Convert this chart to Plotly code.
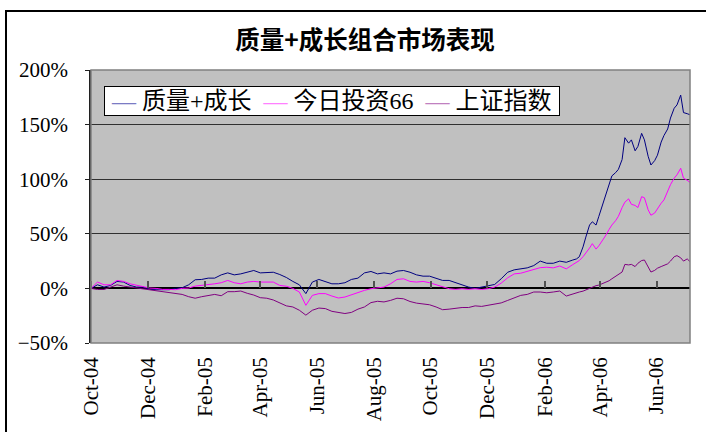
import plotly.graph_objects as go

DATES = [
    "2004-10-01", "2004-10-08", "2004-10-15", "2004-10-22", "2004-10-29",
    "2004-11-05", "2004-11-12", "2004-11-19", "2004-11-26",
    "2004-12-03", "2004-12-10", "2004-12-17", "2004-12-24", "2004-12-31",
    "2005-01-07", "2005-01-14", "2005-01-21", "2005-01-28",
    "2005-02-04", "2005-02-11", "2005-02-18", "2005-02-25",
    "2005-03-04", "2005-03-11", "2005-03-18", "2005-03-25",
    "2005-04-01", "2005-04-08", "2005-04-15", "2005-04-22", "2005-04-29",
    "2005-05-06", "2005-05-13", "2005-05-20", "2005-05-27",
    "2005-06-03", "2005-06-10", "2005-06-17", "2005-06-24",
    "2005-07-01", "2005-07-08", "2005-07-15", "2005-07-22", "2005-07-29",
    "2005-08-05", "2005-08-12", "2005-08-19", "2005-08-26",
    "2005-09-02", "2005-09-09", "2005-09-16", "2005-09-23", "2005-09-30",
    "2005-10-07", "2005-10-14", "2005-10-21", "2005-10-28",
    "2005-11-04", "2005-11-11", "2005-11-18", "2005-11-25",
    "2005-12-02", "2005-12-09", "2005-12-16", "2005-12-23", "2005-12-30",
    "2006-01-06", "2006-01-13", "2006-01-20", "2006-01-27",
    "2006-02-03", "2006-02-10", "2006-02-17", "2006-02-24",
    "2006-03-03", "2006-03-07", "2006-03-10", "2006-03-14", "2006-03-17",
    "2006-03-21", "2006-03-24", "2006-03-28", "2006-03-31", "2006-04-04",
    "2006-04-07", "2006-04-11", "2006-04-14", "2006-04-18", "2006-04-21",
    "2006-04-25", "2006-04-28", "2006-05-02", "2006-05-05", "2006-05-09",
    "2006-05-12", "2006-05-16", "2006-05-19", "2006-05-23", "2006-05-26",
    "2006-05-30", "2006-06-02", "2006-06-06", "2006-06-09", "2006-06-13",
    "2006-06-16", "2006-06-20", "2006-06-23", "2006-06-27", "2006-06-30",
    "2006-07-04", "2006-07-07",
]

# 质量+成长 (%)
QUALITY_GROWTH = [
    0, 3.3, 1.2, 2.7, 6.4, 5.8, 2.7, 1.2, 1.2, -0.9,
    -1.2, -0.9, -1.2, 0, 0.6, 3.3, 7.9, 8.2, 9.4, 9.4,
    12.4, 14.2, 12.4, 13.3, 14.8, 16.4, 14.2, 14.8, 14.8, 12.7,
    10, 6.4, 3.3, -4.8, 5.8, 8.2, 6.4, 4.2, 4.2, 5.2,
    8.2, 9.4, 14.2, 15.5, 13.3, 14.2, 13.3, 15.8, 16.4, 14.8,
    12.4, 11.2, 11.2, 9.4, 7.3, 7.3, 5.2, 3.3, 1.2, 0,
    1.2, 2.7, 3.6, 8.8, 14.8, 17, 17.9, 18.8, 20.9, 25,
    23, 23, 25, 23.9,
    26, 27, 29, 38, 47, 58, 61, 58, 66, 77,
    86, 97, 103, 106, 109, 118, 138, 133, 136, 126,
    130, 142, 136, 121, 113, 117, 122, 134, 140, 146,
    156, 165, 168, 177, 161, 160, 159,
]

# 今日投资66 (%)
JRTZ66 = [
    0, 5.8, 3.3, 3.3, 7.3, 6.4, 4.2, 2.7, 1.2, 0.3,
    0, -0.9, -0.9, -1.2, 0, 0.3, 2.1, 2.7, 3.3, 4.2,
    5.2, 7.3, 5.2, 4.2, 5.8, 6.4, 5.8, 5.8, 5.8, 2.7,
    2, 0, -3.3, -15.5, -6.4, -4.8, -4.8, -7, -8.8, -7.9,
    -5.8, -3.9, -1.8, -0.3, 0.3, 1.2, 4.2, 8.2, 8.8, 6.4,
    5.8, 6.4, 5.2, 3.3, 1.2, -0.3, -0.9, -0.3, -0.9, -0.3,
    -1, -0.3, 1.2, 4.8, 9.7, 13.3, 13.9, 15.8, 17, 19,
    19.4, 18.8, 20.5, 17.9,
    21.8, 24, 25.5, 29, 32, 37, 41, 36, 39, 44,
    48, 54, 58, 62, 66, 74, 79, 82, 77, 76,
    74, 84, 83, 72, 67, 69, 73, 78, 81, 89,
    95, 101, 104, 110, 101, 99, 97,
]

# 上证指数 (%)
SSE = [
    0, -1, -1, 1.2, 3.3, 2.1, 1.2, 0.3, 0, -1.5,
    -2.4, -3, -3.6, -4.5, -5.5, -7.6, -9, -7.6, -6.7, -5.5,
    -6.7, -3, -3, -2.4, -4.5, -6.1, -8.5, -9, -10.6, -13.6,
    -16, -17, -20, -24.5, -20, -18, -18.5, -21, -22, -23,
    -22, -19, -17, -13, -11.8, -12.4, -11, -9, -9.5, -12,
    -13.5, -14.5, -15, -17, -19.5, -19, -18, -17.5, -17.5, -16,
    -16.5, -15.5, -14.5, -13.3, -11, -8.5, -6.4, -5.5, -3.3, -3.3,
    -4, -3.3, -2.4, -7,
    -4.8, -4, -3.3, -2.5, -1.5, 0.5, 1.5, 2.5, 3, 4.2,
    5.5, 7, 8.8, 11, 12.5, 15, 22, 21.5, 22, 20,
    23, 25.5, 26, 20, 15, 16.5, 18.5, 20, 21, 22.5,
    25, 29, 30, 28, 25, 27, 24.5,
]

SERIES_NAMES = ["质量+成长", "今日投资66", "上证指数"]
SERIES_COLORS = ["#000080", "#FF00FF", "#800080"]
LEGEND_SAMPLE_COLORS = ["#7b7bc4", "#ff80ff", "#c080c0"]

TICK_DATES = ["2004-10-01", "2004-12-01", "2005-02-01", "2005-04-01", "2005-06-01",
              "2005-08-01", "2005-10-01", "2005-12-01", "2006-02-01", "2006-04-01",
              "2006-06-01"]
TICK_TEXT = ["Oct-04", "Dec-04", "Feb-05", "Apr-05", "Jun-05", "Aug-05",
             "Oct-05", "Dec-05", "Feb-06", "Apr-06", "Jun-06"]
Y_TICKS = [-50, 0, 50, 100, 150, 200]
Y_TICK_TEXT = ["\u221250%", "0%", "50%", "100%", "150%", "200%"]

W, H = 706, 432
L, R, T, B = 91, 16, 70, 89
PW, PH = W - L - R, H - T - B

SERIF = "Liberation Serif, Times New Roman, Noto Sans CJK SC, serif"
CJK = "Liberation Serif, Noto Sans CJK SC, sans-serif"

fig = go.Figure()
for name, vals, col in zip(SERIES_NAMES, [QUALITY_GROWTH, JRTZ66, SSE], SERIES_COLORS):
    fig.add_trace(go.Scatter(x=DATES, y=vals, mode="lines", name=name,
                             line=dict(color=col, width=1), showlegend=False))

# invisible helper trace so the zero-line tick axis is drawn
fig.add_trace(go.Scatter(x=[DATES[0]], y=[None], xaxis="x2", mode="lines",
                         showlegend=False, hoverinfo="skip"))


def px_x(p):
    return (p - L) / PW


def px_y(p):
    return (H - B - p) / PH


NB = "\u00a0"
legend_parts = []
for name, c in zip(SERIES_NAMES, LEGEND_SAMPLE_COLORS):
    legend_parts.append(f"<span style='color:{c}'>\u2014</span>{NB}{name}")
legend_text = NB + (NB * 2).join(legend_parts) + NB

fig.update_layout(
    width=W, height=H,
    margin=dict(l=L, r=R, t=T, b=B, pad=0),
    paper_bgcolor="white",
    plot_bgcolor="#C0C0C0",
    showlegend=False,
    title=dict(text="<b>质量+成长组合市场表现</b>", x=365 / W, xref="container",
               xanchor="center", y=1 - 40 / H, yref="container", yanchor="middle",
               font=dict(family="Noto Sans CJK SC, sans-serif", size=24.5, color="black")),
    xaxis=dict(type="date", range=["2004-10-01", "2006-07-07"],
               tickvals=TICK_DATES, ticktext=TICK_TEXT, tickangle=-90,
               ticks="", showgrid=False, showline=False, zeroline=False,
               ticklabelstandoff=9,
               tickfont=dict(family=SERIF, size=21, color="black")),
    xaxis2=dict(type="date", matches="x", overlaying="x", anchor="free",
                position=50 / 250, side="top",
                tickvals=TICK_DATES, showticklabels=False,
                ticks="outside", ticklen=7, tickwidth=1.5, tickcolor="#505050",
                showgrid=False, showline=False, zeroline=False),
    yaxis=dict(range=[-50, 200], tickvals=Y_TICKS, ticktext=Y_TICK_TEXT,
               showgrid=True, gridcolor="#303030", gridwidth=1,
               zeroline=True, zerolinecolor="black", zerolinewidth=1.5,
               showline=True, linecolor="#202020", linewidth=1.5,
               ticks="outside", ticklen=4, tickcolor="#202020",
               ticklabelstandoff=13,
               tickfont=dict(family=SERIF, size=21, color="black")),
    annotations=[
        dict(text=legend_text, xref="paper", yref="paper", x=px_x(104), y=px_y(86),
             xanchor="left", yanchor="top", showarrow=False, align="left",
             bgcolor="white", bordercolor="black", borderwidth=1, borderpad=1,
             font=dict(family=CJK, size=24, color="black")),
    ],
    shapes=[
        dict(type="rect", xref="paper", yref="paper", x0=0, x1=1, y0=0, y1=1,
             line=dict(color="#808080", width=1.5), layer="above"),
        dict(type="rect", xref="paper", yref="paper",
             x0=px_x(6), x1=px_x(W + 10), y0=px_y(H + 10), y1=px_y(11),
             line=dict(color="black", width=2), layer="above"),
    ],
)

fig.write_html("out.html", config={"displayModeBar": False},
               post_script="document.body.style.margin='0';")
